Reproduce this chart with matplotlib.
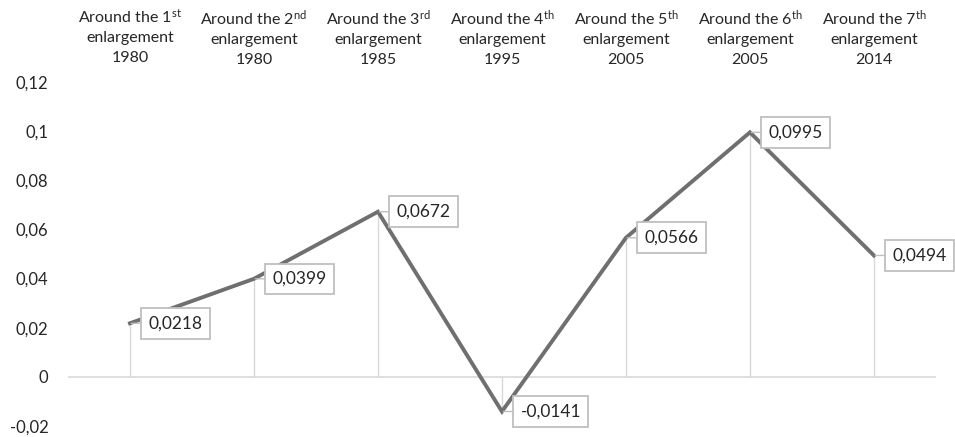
import numpy as np
import matplotlib.pyplot as plt
import matplotlib.transforms as mtransforms

# enlargement rounds, reference years and the measured values
ordinals = ['1', '2', '3', '4', '5', '6', '7']
suffixes = ['st', 'nd', 'rd', 'th', 'th', 'th', 'th']
years = ['1980', '1980', '1985', '1995', '2005', '2005', '2014']
values = [0.0218, 0.0399, 0.0672, -0.0141, 0.0566, 0.0995, 0.0494]
yticks = [-0.02, 0, 0.02, 0.04, 0.06, 0.08, 0.1, 0.12]
ytick_labels = ['-0,02', '0', '0,02', '0,04', '0,06', '0,08', '0,1', '0,12']

plt.rcParams['font.family'] = ['Lato', 'DejaVu Sans']
plt.rcParams['mathtext.fontset'] = 'custom'
plt.rcParams['mathtext.rm'] = 'Lato'
plt.rcParams['mathtext.it'] = 'Lato:italic'

TXT = '#262626'
LIGHT = '#d9d9d9'

fig = plt.figure(figsize=(9.55, 4.37), dpi=100)
ax = fig.add_axes([0.0712, 0.0252, 0.9088, 0.7872])

x = np.arange(len(values))

# drop lines from each point to the zero line
ax.vlines(x, 0, values, color=LIGHT, lw=1.0, zorder=1)
ax.axhline(0, color=LIGHT, lw=1.2, zorder=1)

ax.plot(x, values, color='#6f6f6f', lw=2.8, solid_joinstyle='miter', zorder=3)

# callout labels
for xi, v in zip(x, values):
    ax.annotate(f'{v:.4f}'.replace('.', ','), xy=(xi, v), xytext=(13.5, 0),
                textcoords='offset points', ha='left', va='center',
                fontsize=12.5, color=TXT, zorder=4,
                bbox=dict(boxstyle='square,pad=0.42', fc='white', ec='#bfbfbf', lw=1.3),
                arrowprops=dict(arrowstyle='-', color='#bfbfbf', lw=1.0,
                                shrinkA=0, shrinkB=1))

ax.set_xlim(-0.5, len(values) - 0.5)
ax.set_ylim(-0.02, 0.12)
ax.set_xticks([])
ax.set_yticks(yticks)
ax.set_yticklabels(ytick_labels)
ax.tick_params(axis='y', length=0, pad=14, labelsize=12, labelcolor=TXT)
for s in ax.spines.values():
    s.set_visible(False)

# category headers above the plot
trans = mtransforms.blended_transform_factory(ax.transData, fig.transFigure)
for xi, o, s, y in zip(x, ordinals, suffixes, years):
    label = f'Around the {o}$^{{\\mathrm{{{s}}}}}$\nenlargement\n{y}'
    ax.text(xi, 1 - 8 / 437, label, transform=trans, ha='center', va='top',
            fontsize=11.5, color=TXT, linespacing=1.5)

fig.savefig('out.png', dpi=100)
